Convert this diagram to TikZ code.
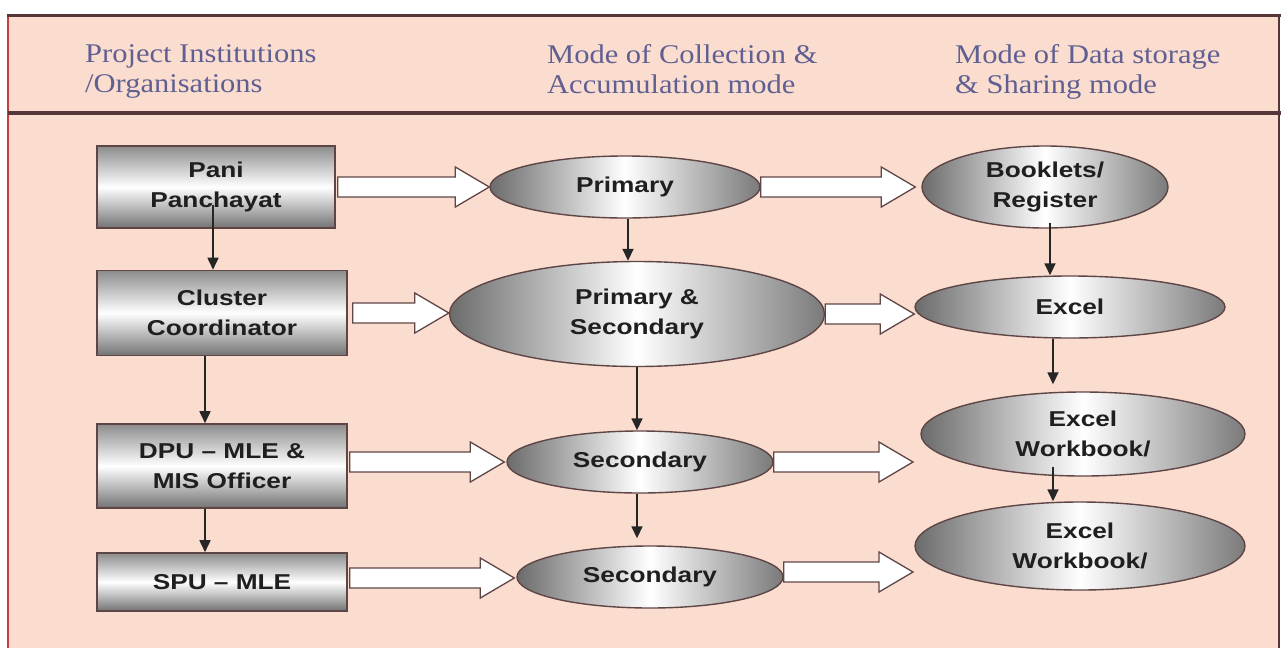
\documentclass[tikz,border=0pt]{standalone}
\usepackage{fontspec}
\usetikzlibrary{calc,arrows.meta,shapes.geometric}
\newfontfamily\boxfont[FakeStretch=1.22,UprightFont={* Bold}]{Liberation Sans}
\newfontfamily\headfont[FakeStretch=1.13]{Liberation Serif}
\definecolor{bgpink}{RGB}{251,221,208}
\definecolor{framedark}{RGB}{85,55,55}
\definecolor{edgebrown}{RGB}{95,70,70}
\definecolor{headtext}{RGB}{95,95,145}
\definecolor{framered}{RGB}{205,60,60}
\tikzset{
  boxnode/.style={draw=edgebrown, line width=1.6pt, rectangle, inner sep=0pt,
    top color=black!45, bottom color=black!55, middle color=white,
    align=center, font=\boxfont\fontsize{21.5}{30}\selectfont, text=black!88},
  ellnode/.style={draw=edgebrown, line width=1.4pt, ellipse, inner sep=0pt,
    left color=black!58, right color=black!52, middle color=white,
    align=center, font=\boxfont\fontsize{21.5}{30}\selectfont, text=black!88},
  headnode/.style={anchor=north west, align=left, inner sep=0pt,
    font=\headfont\fontsize{27}{30}\selectfont, text=headtext},
  harrowstyle/.style={draw=edgebrown, line width=1.3pt, fill=white, line join=miter},
  varrow/.style={draw=black!85, line width=1.7pt, -{Triangle[width=11pt,length=12pt]}}
}
\newcommand\harrow[2]{%
  \path[harrowstyle] let \p1=(#1), \p2=(#2) in
    (\x1,\y1+10pt) -- (\x2-34pt,\y1+10pt) -- (\x2-34pt,\y1+20pt) -- (\x2,\y1)
    -- (\x2-34pt,\y1-20pt) -- (\x2-34pt,\y1-10pt) -- (\x1,\y1-10pt) -- cycle;}
\begin{document}
\begin{tikzpicture}[x=1pt,y=-1pt]
\useasboundingbox (0,0) rectangle (1281,648);
\fill[white] (0,0) rectangle (1281,648);
% frame
\fill[bgpink] (8,15) rectangle (1279,648);
\draw[framered, line width=1.5pt] (8,15) -- (8,648);
\draw[framedark, line width=3pt] (7,15) -- (1281,15);
\draw[framedark, line width=4pt] (8,113) -- (1281,113);
\draw[framedark, line width=1.5pt] (1279,15) -- (1279,648);
% headers
\node[headnode] (h1) at (85,44) {Project Institutions\\/Organisations};
\node[headnode] (h2) at (547,44) {Mode of Collection \&\\Accumulation mode};
\node[headnode] (h3) at (955,44) {Mode of Data storage\\\& Sharing mode};
% left column
\node[boxnode, minimum width=238pt, minimum height=82pt] (pani) at (216,187) {Pani\\Panchayat};
\node[boxnode, minimum width=250pt, minimum height=85pt] (cluster) at (222,313) {Cluster\\Coordinator};
\node[boxnode, minimum width=250pt, minimum height=84pt] (dpu) at (222,466) {DPU – MLE \&\\MIS Officer};
\node[boxnode, minimum width=250pt, minimum height=58pt] (spu) at (222,582) {SPU – MLE};
% middle column
\node[ellnode, minimum width=270pt, minimum height=62pt] (primary) at (625,187) {Primary};
\node[ellnode, minimum width=375pt, minimum height=105pt] (ps) at (637,314) {Primary \&\\Secondary};
\node[ellnode, minimum width=266pt, minimum height=62pt] (sec1) at (640,462) {Secondary};
\node[ellnode, minimum width=266pt, minimum height=62pt] (sec2) at (650,577) {Secondary};
% right column
\node[ellnode, minimum width=246pt, minimum height=82pt] (book) at (1045,187) {Booklets/\\Register};
\node[ellnode, minimum width=310pt, minimum height=62pt] (excel) at (1070,307) {Excel};
\node[ellnode, minimum width=324pt, minimum height=84pt] (wb1) at (1083,434) {Excel\\Workbook/};
\node[ellnode, minimum width=330pt, minimum height=88pt] (wb2) at (1080,546) {Excel\\Workbook/};
\coordinate (end1) at (913,462);
\coordinate (end2) at (913,572);
% hollow arrows
\harrow{[xshift=2pt]pani.east}{primary.west}
\harrow{primary.east}{[xshift=-6pt]book.west}
\harrow{[xshift=5pt]cluster.east}{ps.west}
\harrow{ps.east}{excel.west}
\harrow{[xshift=2pt,yshift=4pt]dpu.east}{[xshift=-2pt]sec1.west}
\harrow{sec1.east}{end1}
\harrow{[xshift=2pt,yshift=4pt]spu.east}{[xshift=-2pt]sec2.west}
\harrow{[yshift=5pt]sec2.east}{end2}
% vertical arrows
\draw[varrow] ([xshift=-3pt,yshift=24pt]pani.south) -- ([xshift=-3pt]pani.south |- cluster.north);
\draw[varrow] ([xshift=-17pt]cluster.south) -- ([xshift=-17pt]cluster.south |- dpu.north);
\draw[varrow] ([xshift=-17pt]dpu.south) -- ([xshift=-17pt]dpu.south |- spu.north);
\draw[varrow] ([xshift=3pt]primary.south) -- ([xshift=3pt]primary.south |- ps.north);
\draw[varrow] (ps.south) -- (ps.south |- sec1.north);
\draw[varrow] ([xshift=-3pt]sec1.south) -- ([xshift=-3pt,yshift=7pt]sec1.south |- sec2.north);
\draw[varrow] ([xshift=5pt,yshift=6pt]book.south) -- ([xshift=5pt]book.south |- excel.north);
\draw[varrow] ([xshift=-17pt]excel.south) -- ([xshift=-17pt,yshift=7pt]excel.south |- wb1.north);
\draw[varrow] ([xshift=-30pt,yshift=10pt]wb1.south) -- ([xshift=-30pt]wb1.south |- wb2.north);
\end{tikzpicture}
\end{document}
